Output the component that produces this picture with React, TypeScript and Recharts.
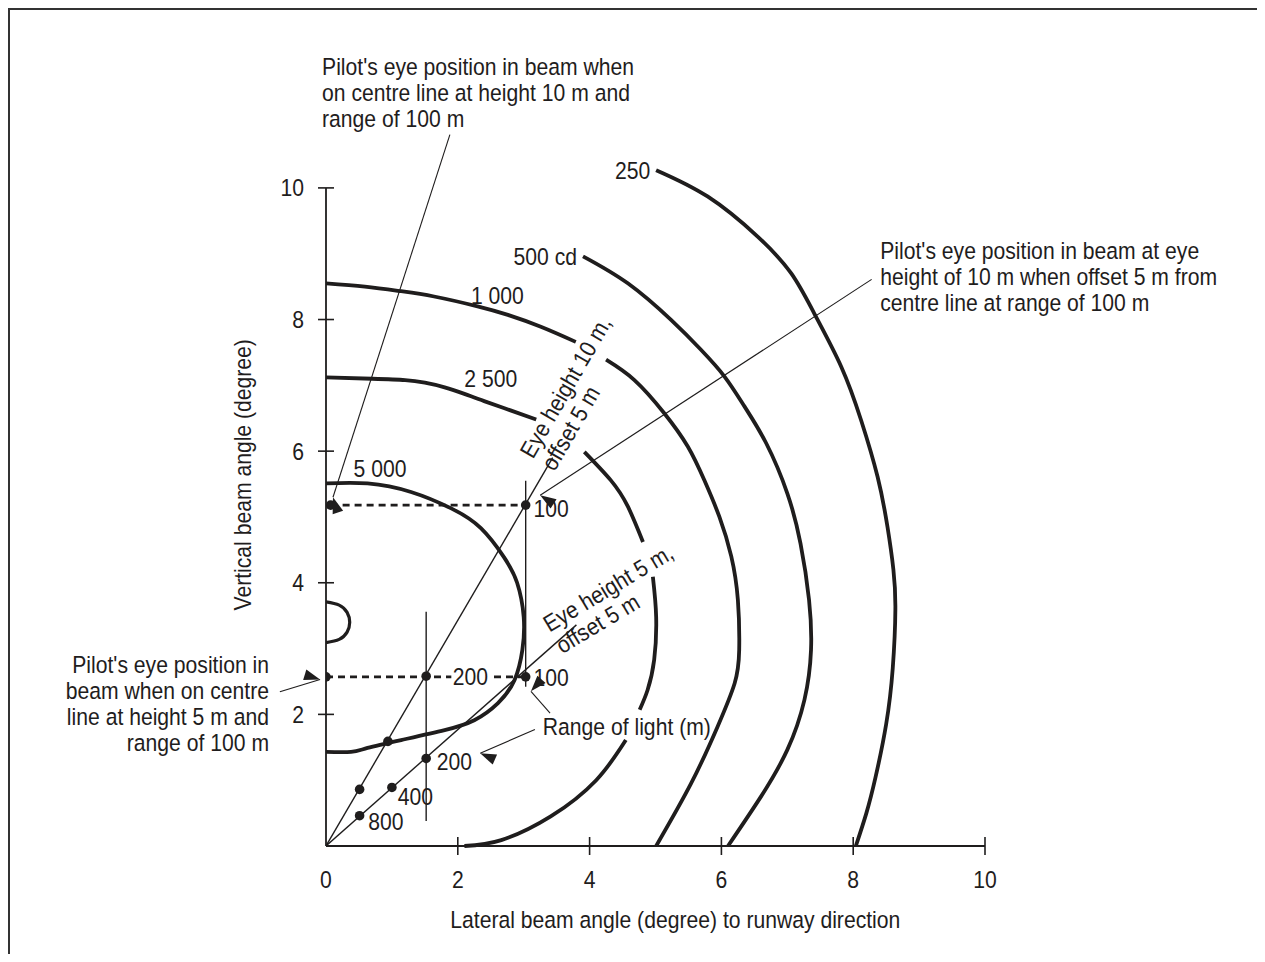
import { ComposedChart, Line, Scatter, XAxis, YAxis, ReferenceLine, ReferenceDot } from "recharts";

const FONT = "'Liberation Sans', Arial, sans-serif";
const INK = "#1f1d1d";
const SQUEEZE = 0.9; // the original uses a condensed face

const xTicks = [0, 2, 4, 6, 8, 10];
const yTicks = [2, 4, 6, 8, 10];

// iso-candela curves (null = gap where a label crosses)
const curve250 = [
  { x: 5.01, y: 10.27 }, { x: 5.79, y: 9.87 }, { x: 6.55, y: 9.26 }, { x: 7.06, y: 8.7 },
  { x: 7.41, y: 8.09 }, { x: 7.82, y: 7.28 }, { x: 8.12, y: 6.47 }, { x: 8.37, y: 5.61 },
  { x: 8.52, y: 4.85 }, { x: 8.61, y: 4.2 }, { x: 8.64, y: 3.6 }, { x: 8.6, y: 2.7 },
  { x: 8.5, y: 1.85 }, { x: 8.34, y: 1.05 }, { x: 8.2, y: 0.5 }, { x: 8.04, y: 0 },
];
const curve500 = [
  { x: 3.9, y: 8.96 }, { x: 4.58, y: 8.55 }, { x: 5.24, y: 7.99 }, { x: 5.69, y: 7.54 },
  { x: 6.05, y: 7.13 }, { x: 6.35, y: 6.68 }, { x: 6.68, y: 6.12 }, { x: 7.0, y: 5.36 },
  { x: 7.2, y: 4.6 }, { x: 7.33, y: 3.74 }, { x: 7.36, y: 2.98 }, { x: 7.26, y: 2.22 },
  { x: 7.0, y: 1.46 }, { x: 6.6, y: 0.75 }, { x: 6.1, y: 0 },
];
const curve1000 = [
  { x: 0, y: 8.55 }, { x: 0.59, y: 8.5 }, { x: 1.14, y: 8.43 }, { x: 1.64, y: 8.35 },
  { x: 2.3, y: 8.2 }, { x: 2.76, y: 8.07 }, { x: 3.26, y: 7.89 }, { x: 3.79, y: 7.66 },
  { x: 4.0, y: null },
  { x: 4.25, y: 7.39 }, { x: 4.68, y: 7.08 }, { x: 5.13, y: 6.58 }, { x: 5.49, y: 6.07 },
  { x: 5.74, y: 5.56 }, { x: 5.97, y: 5.0 }, { x: 6.15, y: 4.4 }, { x: 6.25, y: 3.74 },
  { x: 6.27, y: 2.98 }, { x: 6.2, y: 2.47 }, { x: 5.94, y: 1.81 }, { x: 5.54, y: 0.95 },
  { x: 5.01, y: 0 },
];
const curve2500 = [
  { x: 0, y: 7.12 }, { x: 0.7, y: 7.1 }, { x: 1.2, y: 7.08 }, { x: 1.5, y: 7.04 },
  { x: 1.8, y: 6.97 }, { x: 2.1, y: 6.87 }, { x: 2.4, y: 6.76 }, { x: 2.8, y: 6.62 },
  { x: 3.19, y: 6.48 },
  { x: 3.5, y: null },
  { x: 3.92, y: 5.99 }, { x: 4.32, y: 5.56 }, { x: 4.58, y: 5.16 }, { x: 4.81, y: 4.62 },
  { x: 4.9, y: null },
  { x: 4.96, y: 4.09 }, { x: 5.01, y: 3.48 }, { x: 4.98, y: 2.83 }, { x: 4.88, y: 2.37 },
  { x: 4.76, y: 2.07 },
  { x: 4.65, y: null },
  { x: 4.55, y: 1.61 }, { x: 4.1, y: 1.0 }, { x: 3.41, y: 0.45 }, { x: 2.66, y: 0.09 },
  { x: 2.1, y: 0 },
];
const curve5000 = [
  { x: 0, y: 5.51 }, { x: 0.63, y: 5.51 }, { x: 1.29, y: 5.38 }, { x: 1.9, y: 5.13 },
  { x: 2.35, y: 4.83 }, { x: 2.7, y: 4.39 }, { x: 2.9, y: 4.0 }, { x: 3.0, y: 3.48 },
  { x: 2.98, y: 2.98 }, { x: 2.86, y: 2.52 }, { x: 2.61, y: 2.17 }, { x: 2.25, y: 1.91 },
  { x: 1.8, y: 1.76 }, { x: 1.14, y: 1.61 }, { x: 0.63, y: 1.49 }, { x: 0.38, y: 1.43 },
  { x: 0, y: 1.43 },
];
const lobe = [
  { x: 0, y: 3.71 }, { x: 0.2, y: 3.66 }, { x: 0.32, y: 3.55 }, { x: 0.36, y: 3.4 },
  { x: 0.32, y: 3.25 }, { x: 0.2, y: 3.14 }, { x: 0, y: 3.09 },
];

// pilot eye lines and range marks
const eye10 = [{ x: 0, y: 0 }, { x: 3.44, y: 5.9 }];
const eye5 = [{ x: 0, y: 0 }, { x: 3.8, y: 3.36 }];
const range10 = [{ x: 0.51, y: 0.86 }, { x: 0.94, y: 1.59 }, { x: 1.52, y: 2.58 }, { x: 3.03, y: 5.18 }];
const range5 = [{ x: 0.51, y: 0.46 }, { x: 1.0, y: 0.89 }, { x: 1.52, y: 1.33 }, { x: 3.03, y: 2.57 }];
const centreDots = [{ x: 0.07, y: 5.18 }, { x: 0, y: 2.57 }];
const dash10 = [{ x: 0.07, y: 5.18 }, { x: 3.03, y: 5.18 }];
const dash5 = [{ x: 0, y: 2.57 }, { x: 3.03, y: 2.57 }];
const mark200 = [{ x: 1.52, y: 0.38 }, { x: 1.52, y: 3.56 }];
const mark100 = [{ x: 3.03, y: 2.42 }, { x: 3.03, y: 5.55 }];

const curveLabels = [
  { x: 4.92, y: 10.27, text: "250", anchor: "end" },
  { x: 3.81, y: 8.95, text: "500 cd", anchor: "end" },
  { x: 2.6, y: 8.37, text: "1 000", anchor: "middle" },
  { x: 2.5, y: 7.1, text: "2 500", anchor: "middle" },
  { x: 0.82, y: 5.74, text: "5 000", anchor: "middle" },
];
const rangeLabels = [
  { x: 3.15, y: 5.13, text: "100", anchor: "start", bg: false },
  { x: 3.15, y: 2.56, text: "100", anchor: "start", bg: false },
  { x: 2.19, y: 2.57, text: "200", anchor: "middle", bg: true },
  { x: 1.68, y: 1.28, text: "200", anchor: "start", bg: false },
  { x: 1.09, y: 0.745, text: "400", anchor: "start", bg: false },
  { x: 0.64, y: 0.365, text: "800", anchor: "start", bg: false },
];
const notes = [
  { x: -0.06, y: 11.84, anchor: "start", lines: ["Pilot's eye position in beam when", "on centre line at height 10 m and", "range of 100 m"] },
  { x: 8.41, y: 9.04, anchor: "start", lines: ["Pilot's eye position in beam at eye", "height of 10 m when offset 5 m from", "centre line at range of 100 m"] },
  { x: -0.865, y: 2.75, anchor: "end", lines: ["Pilot's eye position in", "beam when on centre", "line at height 5 m and", "range of 100 m"] },
  { x: 3.29, y: 1.81, anchor: "start", lines: ["Range of light (m)"] },
];
const slanted = [
  { x: 3.14, y: 5.87, angle: -60, lines: ["Eye height 10 m,", "offset 5 m"] },
  { x: 3.39, y: 3.24, angle: -31, lines: ["Eye height 5 m,", "offset 5 m"] },
];
const arrows = [
  { from: { x: 1.88, y: 10.81 }, to: { x: 0.106, y: 5.3 } },
  { from: { x: 8.28, y: 8.61 }, to: { x: 3.25, y: 5.33 } },
  { from: { x: -0.7, y: 2.345 }, to: { x: -0.09, y: 2.53 } },
  { from: { x: 3.4, y: 2.02 }, to: { x: 3.11, y: 2.35 } },
  { from: { x: 3.17, y: 1.77 }, to: { x: 2.34, y: 1.41 } },
];

// text drawn with a horizontal squeeze to imitate the narrow face of the original
const T = ({ x, y, anchor = "start", rotate = 0, baseline = "central", gap = 26, lines }: any) => (
  <g transform={`translate(${x} ${y}) rotate(${rotate}) scale(${SQUEEZE} 1)`}>
    <text x={0} y={0} textAnchor={anchor} dominantBaseline={baseline} fontFamily={FONT} fontSize={23.5} fill={INK}>
      {lines.map((s: string, j: number) => (
        <tspan key={j} x={0} dy={j === 0 ? 0 : gap}>{s}</tspan>
      ))}
    </text>
  </g>
);

const YTick = (props: any) => {
  const { x, y, payload } = props;
  return (
    <g>
      <line x1={x - 8} x2={x + 8} y1={y} y2={y} stroke={INK} strokeWidth={1.6} />
      <T x={x - 22} y={y} anchor="end" lines={[String(payload.value)]} />
    </g>
  );
};

const XTick = (props: any) => {
  const { x, y, payload } = props;
  return (
    <g>
      {payload.value !== 0 && <line x1={x} x2={x} y1={y - 9} y2={y + 9} stroke={INK} strokeWidth={1.6} />}
      <T x={x} y={y + 34} anchor="middle" lines={[String(payload.value)]} />
    </g>
  );
};

const Dot = (props: any) => <circle cx={props.cx} cy={props.cy} r={4.8} fill={INK} />;

const arrowAngle = (a: any) => (Math.atan2(-(a.to.y - a.from.y), a.to.x - a.from.x) * 180) / Math.PI;

export default function App() {
  const curveProps = { type: "natural" as const, dataKey: "y", stroke: INK, strokeWidth: 3.8, dot: false, activeDot: false, isAnimationActive: false, connectNulls: false };
  const thin = { type: "linear" as const, dataKey: "y", stroke: INK, strokeWidth: 1.4, dot: false, activeDot: false, isAnimationActive: false };
  return (
    <div style={{ position: "relative", width: 1249, height: 946, borderTop: "2px solid #333", borderLeft: "2px solid #333", boxSizing: "border-box", background: "#fff" }}>
      <ComposedChart width={1247} height={944} margin={{ top: 145, right: 272, bottom: 0, left: 256 }}>
        <XAxis dataKey="x" type="number" domain={[0, 10]} ticks={xTicks} interval={0} tickSize={0} tickMargin={0}
          tick={<XTick />} height={108} stroke={INK} strokeWidth={1.8} allowDataOverflow />
        <YAxis type="number" domain={[0, 10.5]} ticks={yTicks} interval={0} tickSize={0} tickMargin={0}
          tick={<YTick />} width={60} axisLine={false} />
        <ReferenceLine segment={[{ x: 0, y: 0 }, { x: 0, y: 10 }]} stroke={INK} strokeWidth={1.8} ifOverflow="visible" />

        <Line data={curve250} {...curveProps} />
        <Line data={curve500} {...curveProps} />
        <Line data={curve1000} {...curveProps} />
        <Line data={curve2500} {...curveProps} />
        <Line data={curve5000} {...curveProps} />
        <Line data={lobe} {...curveProps} strokeWidth={3.2} />

        <Line data={eye10} {...thin} />
        <Line data={eye5} {...thin} />
        <Line data={mark200} {...thin} />
        <Line data={mark100} {...thin} />
        <Line data={dash10} {...thin} strokeWidth={2.8} strokeDasharray="7 5" />
        <Line data={dash5} {...thin} strokeWidth={2.8} strokeDasharray="7 5" />

        <Scatter data={range10} dataKey="y" shape={<Dot />} isAnimationActive={false} />
        <Scatter data={range5} dataKey="y" shape={<Dot />} isAnimationActive={false} />
        <Scatter data={centreDots} dataKey="y" shape={<Dot />} isAnimationActive={false} />

        {arrows.map((a, i) => (
          <ReferenceLine key={"al" + i} segment={[a.from, a.to]} stroke={INK} strokeWidth={1.1} ifOverflow="visible" />
        ))}
        {arrows.map((a, i) => (
          <ReferenceDot key={"ah" + i} x={a.to.x} y={a.to.y} ifOverflow="visible"
            shape={(p: any) => (
              <polygon points="0,0 -16,-5.5 -16,5.5" fill={INK}
                transform={`translate(${p.cx},${p.cy}) rotate(${-arrowAngle(a)})`} />
            )} />
        ))}

        {curveLabels.map((l, i) => (
          <ReferenceDot key={"cl" + i} x={l.x} y={l.y} ifOverflow="visible"
            shape={(p: any) => <T x={p.cx} y={p.cy} anchor={l.anchor} lines={[l.text]} />} />
        ))}
        {rangeLabels.map((l, i) => (
          <ReferenceDot key={"rl" + i} x={l.x} y={l.y} ifOverflow="visible"
            shape={(p: any) => (
              <g>
                {l.bg && <rect x={p.cx - 19} y={p.cy - 12} width={38} height={24} fill="#fff" />}
                <T x={p.cx} y={p.cy} anchor={l.anchor} lines={[l.text]} />
              </g>
            )} />
        ))}
        {notes.map((n, i) => (
          <ReferenceDot key={"n" + i} x={n.x} y={n.y} ifOverflow="visible"
            shape={(p: any) => <T x={p.cx} y={p.cy} anchor={n.anchor} lines={n.lines} gap={26} />} />
        ))}
        {slanted.map((n, i) => (
          <ReferenceDot key={"s" + i} x={n.x} y={n.y} ifOverflow="visible"
            shape={(p: any) => <T x={p.cx} y={p.cy} rotate={n.angle} baseline="alphabetic" lines={n.lines} gap={25} />} />
        ))}

        <ReferenceDot x={-1.26} y={5.64} ifOverflow="visible"
          shape={(p: any) => <T x={p.cx} y={p.cy} anchor="middle" rotate={-90} lines={["Vertical beam angle (degree)"]} />} />
        <ReferenceDot x={5.3} y={-1.125} ifOverflow="visible"
          shape={(p: any) => <T x={p.cx} y={p.cy} anchor="middle" lines={["Lateral beam angle (degree) to runway direction"]} />} />
      </ComposedChart>
    </div>
  );
}
